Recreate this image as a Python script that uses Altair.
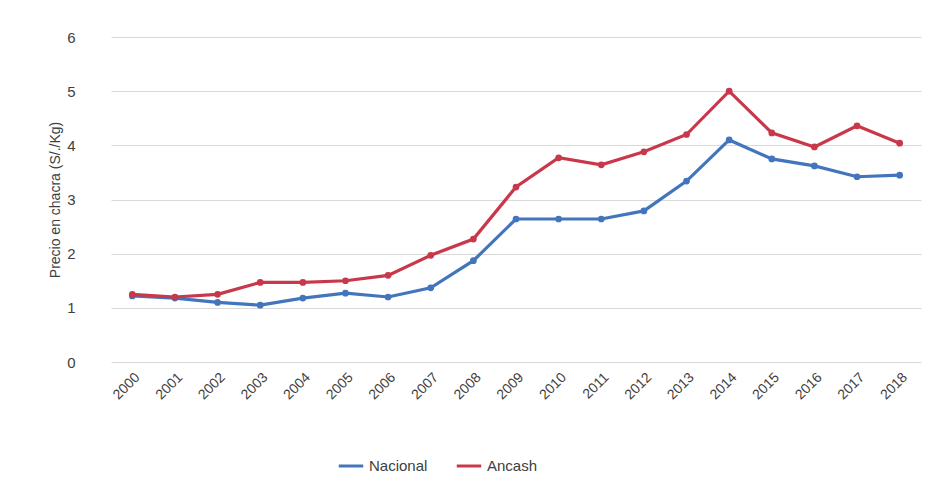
import altair as alt
import pandas as pd

years = [str(y) for y in range(2000, 2019)]
nacional = [1.22, 1.18, 1.10, 1.05, 1.18, 1.27, 1.20, 1.37, 1.87, 2.64, 2.64, 2.64, 2.79, 3.34, 4.10, 3.75, 3.62, 3.42, 3.45]
ancash = [1.25, 1.20, 1.25, 1.47, 1.47, 1.50, 1.60, 1.97, 2.27, 3.23, 3.77, 3.64, 3.88, 4.20, 5.00, 4.23, 3.97, 4.36, 4.04]
series = ["Nacional", "Ancash"]
colors = ["#4275BC", "#C8384A"]

rows = []
for name, vals in zip(series, [nacional, ancash]):
    for y, v in zip(years, vals):
        rows.append({"Año": y, "Serie": name, "Precio": v})
df = pd.DataFrame(rows)

font = "Liberation Sans"

x = alt.X("Año:O", sort=years, title=None,
          scale=alt.Scale(type="point", padding=0.5),
          axis=alt.Axis(labelAngle=-45, labelAlign="right", labelBaseline="top",
                        labelFontSize=14, labelColor="#404040", labelFont=font,
                        domain=False, ticks=False, grid=False, labelPadding=8))
y = alt.Y("Precio:Q", title="Precio en chacra (S/./Kg)",
          scale=alt.Scale(domain=[0, 6], nice=False),
          axis=alt.Axis(values=[0, 1, 2, 3, 4, 5, 6], format="d", domain=False, ticks=False,
                        gridColor="#D9D9D9", gridWidth=1,
                        labelFontSize=15, labelColor="#404040", labelFont=font,
                        labelPadding=36, titleFontSize=14, titleFont=font,
                        titleFontWeight="normal", titleColor="#404040", titlePadding=4))
color = alt.Color("Serie:N", sort=series,
                  scale=alt.Scale(domain=series, range=colors),
                  legend=alt.Legend(title=None, orient="none", direction="horizontal",
                                    legendX=226, legendY=415,
                                    symbolType="stroke", symbolStrokeWidth=3, symbolSize=600,
                                    labelFontSize=15, labelFont=font, labelColor="#404040",
                                    columnPadding=22))

base = alt.Chart(df)
lines = base.mark_line(strokeWidth=3.2).encode(x=x, y=y, color=color, detail="Serie:N")
points = base.mark_point(filled=True, size=45, opacity=1).encode(x=x, y=y, color=color)

chart = (lines + points).properties(
    width=810, height=325,
    padding={"left": 40, "top": 22, "right": 5, "bottom": 5},
    background="white",
).configure_view(stroke=None)

chart.save("out.html", embed_options={"renderer": "svg", "actions": False})
